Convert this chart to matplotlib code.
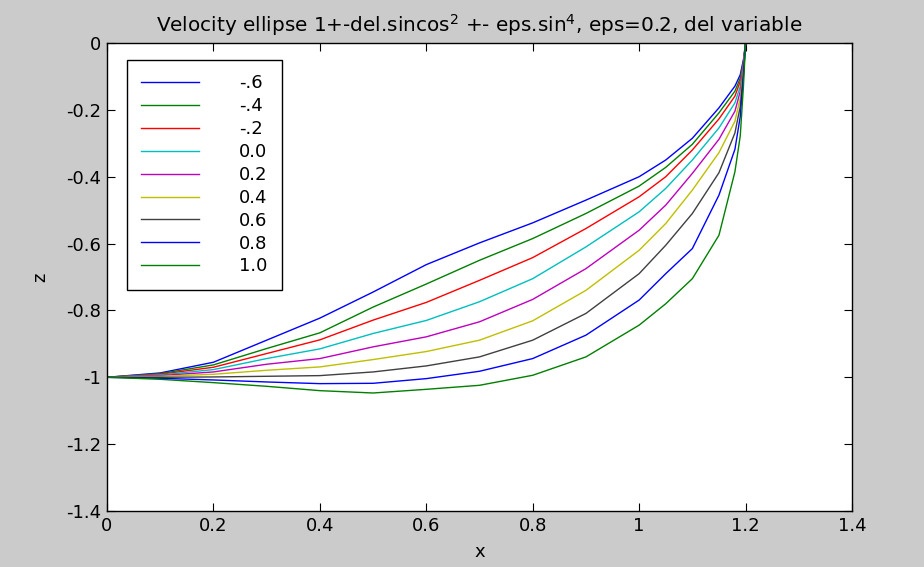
import matplotlib
matplotlib.use("Agg")
import matplotlib.pyplot as plt

plt.rcParams['font.family'] = ['DejaVu Sans']
plt.rcParams['axes.unicode_minus'] = False
plt.rcParams['mathtext.fontset'] = 'dejavusans'

# shared x positions of the read-off samples
x_vals = [0.0, 0.1, 0.2, 0.3, 0.4, 0.5, 0.6, 0.7, 0.8, 0.9, 1.0, 1.05, 1.1,
          1.15, 1.18, 1.19, 1.196, 1.2]

z_m06 = [-1.0, -0.987, -0.955, -0.889, -0.823, -0.745, -0.663, -0.598, -0.538, -0.470,
         -0.400, -0.350, -0.285, -0.194, -0.129, -0.095, -0.050, 0.0]
z_m04 = [-1.0, -0.989, -0.963, -0.914, -0.867, -0.790, -0.721, -0.650, -0.585, -0.510,
         -0.428, -0.372, -0.303, -0.209, -0.144, -0.105, -0.055, 0.0]
z_m02 = [-1.0, -0.991, -0.970, -0.929, -0.888, -0.829, -0.776, -0.710, -0.642, -0.555,
         -0.460, -0.400, -0.320, -0.227, -0.159, -0.115, -0.060, 0.0]
z_00 = [-1.0, -0.993, -0.977, -0.944, -0.915, -0.869, -0.830, -0.774, -0.705, -0.610,
        -0.505, -0.435, -0.350, -0.254, -0.179, -0.130, -0.065, 0.0]
z_02 = [-1.0, -0.995, -0.984, -0.961, -0.944, -0.909, -0.879, -0.834, -0.767, -0.675,
        -0.560, -0.485, -0.390, -0.288, -0.204, -0.145, -0.070, 0.0]
z_04 = [-1.0, -0.997, -0.991, -0.979, -0.969, -0.947, -0.923, -0.889, -0.831, -0.740,
        -0.620, -0.540, -0.440, -0.328, -0.234, -0.165, -0.080, 0.0]
z_06 = [-1.0, -1.0, -0.999, -0.997, -0.995, -0.984, -0.966, -0.939, -0.889, -0.809,
        -0.690, -0.605, -0.510, -0.388, -0.269, -0.190, -0.090, 0.0]
z_08 = [-1.0, -1.003, -1.008, -1.014, -1.019, -1.018, -1.004, -0.982, -0.944, -0.874,
        -0.769, -0.690, -0.615, -0.455, -0.318, -0.220, -0.100, 0.0]
z_10 = [-1.0, -1.006, -1.016, -1.027, -1.040, -1.047, -1.036, -1.024, -0.994, -0.939,
        -0.844, -0.780, -0.705, -0.575, -0.385, -0.278, -0.129, 0.0]

series = [z_m06, z_m04, z_m02, z_00, z_02, z_04, z_06, z_08, z_10]
labels = ['-.6', '-.4', '-.2', '0.0', '0.2', '0.4', '0.6', '0.8', '1.0']
colors = ['#0000ff', '#008000', '#ff0000', '#00bfbf', '#bf00bf', '#bfbf00',
          '#404040', '#0000ff', '#008000']

x_ticks = [0, 0.2, 0.4, 0.6, 0.8, 1.0, 1.2, 1.4]
x_ticklabels = ['0', '0.2', '0.4', '0.6', '0.8', '1', '1.2', '1.4']
y_ticks = [0, -0.2, -0.4, -0.6, -0.8, -1.0, -1.2, -1.4]
y_ticklabels = ['0', '-0.2', '-0.4', '-0.6', '-0.8', '-1', '-1.2', '-1.4']

fig = plt.figure(figsize=(9.24, 5.67), dpi=100, facecolor='#cbcbcb')
ax = fig.add_axes([107/924, 56/567, 745/924, 468/567])
ax.set_facecolor('white')

for z, lab, c in zip(series, labels, colors):
    ax.plot(x_vals, z, color=c, lw=1.0, label=lab)

ax.set_xlim(0, 1.4)
ax.set_ylim(-1.4, 0)
ax.set_xticks(x_ticks)
ax.set_xticklabels(x_ticklabels)
ax.set_yticks(y_ticks)
ax.set_yticklabels(y_ticklabels)
ax.tick_params(direction='in', length=5.5, width=0.8, top=True, right=True,
               labelsize=13, colors='black', pad=4)
for s in ax.spines.values():
    s.set_linewidth(1.0)
    s.set_color('black')

ax.set_xlabel('x', fontsize=13, labelpad=6)
ax.set_ylabel('z', fontsize=13, labelpad=12)
ax.set_title('Velocity ellipse 1+-del.sincos$^2$ +- eps.sin$^4$, eps=0.2, del variable',
             fontsize=14.4, pad=8)

leg = ax.legend(loc='upper left', bbox_to_anchor=(20/745, 451/468), borderaxespad=0,
                fontsize=13, handlelength=3.2, handletextpad=2.2, labelspacing=0.27,
                borderpad=0.8, fancybox=False, framealpha=1, edgecolor='black')
leg.get_frame().set_linewidth(1.0)

fig.savefig('out.png', dpi=100, facecolor=fig.get_facecolor())
